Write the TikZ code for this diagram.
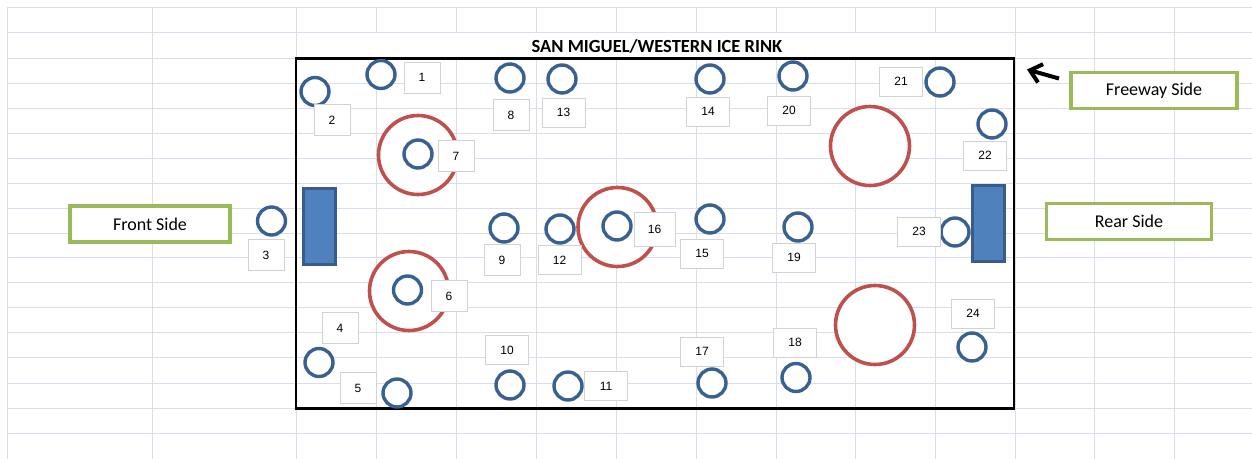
\documentclass[tikz,border=0pt]{standalone}
\usepackage{fontspec}
\setmainfont{Liberation Sans}
\newfontfamily\calibri{Carlito}
\usetikzlibrary{arrows.meta}
\definecolor{cellline}{RGB}{217,222,236}
\definecolor{postblue}{RGB}{56,96,146}
\definecolor{ringred}{RGB}{192,80,77}
\definecolor{sidegreen}{RGB}{155,187,89}
\definecolor{goalblue}{RGB}{79,129,189}
\definecolor{goaledge}{RGB}{56,93,138}
\definecolor{tagline}{RGB}{210,210,210}
\begin{document}
\begin{tikzpicture}[
        x=1pt, y=-1pt,
        cell/.style={draw=cellline, line width=1pt},
        rink/.style={draw=black, line width=2.4pt},
        ring/.style={circle, draw=ringred, line width=3.6pt, fill=white, minimum size=79pt, inner sep=0pt},
        post/.style={circle, draw=postblue, line width=3.4pt, fill=white, minimum size=28pt, inner sep=0pt},
        tag/.style={rectangle, draw=tagline, line width=1pt, fill=white, minimum width=36pt, minimum height=31pt, inner sep=0pt, font=\fontsize{12}{14}\selectfont},
        wide/.style={tag, minimum width=43pt, minimum height=29pt},
        goal/.style={rectangle, draw=goaledge, line width=3pt, fill=goalblue, minimum width=32pt, minimum height=76pt, inner sep=0pt},
        side/.style={rectangle, draw=sidegreen, line width=3.6pt, fill=white, minimum height=36pt, inner sep=0pt, font=\calibri\fontsize{18}{20}\selectfont}
        ]
      \useasboundingbox (1,0.5) rectangle (1253,458.5);
      % spreadsheet cells
      \draw[cell] (8,8) -- (1253,8) (8,33) -- (1253,33) (8,59) -- (1253,59) (8,84) -- (1253,84)
        (8,109) -- (1253,109) (8,134) -- (1253,134) (8,159) -- (1253,159) (8,184) -- (1253,184)
        (8,209) -- (1253,209) (8,234) -- (1253,234) (8,258) -- (1253,258) (8,283) -- (1253,283)
        (8,308) -- (1253,308) (8,333) -- (1253,333) (8,358) -- (1253,358) (8,384) -- (1253,384)
        (8,409) -- (1253,409) (8,434) -- (1253,434);
      \draw[cell] (8,8) -- (8,459) (153,8) -- (153,459) (297,8) -- (297,459) (1016,8) -- (1016,459)
        (377,8) -- (377,33) (457,8) -- (457,33) (537,8) -- (537,33) (617,8) -- (617,33)
        (697,8) -- (697,33) (777,8) -- (777,33) (856,8) -- (856,33) (936,8) -- (936,33)
        (377,59) -- (377,459) (457,59) -- (457,459) (537,59) -- (537,459) (617,59) -- (617,459)
        (697,59) -- (697,459) (777,59) -- (777,459) (856,59) -- (856,459) (936,59) -- (936,459)
        (1095,8) -- (1095,459) (1175,8) -- (1175,459);

      \node[font=\calibri\bfseries\fontsize{18.5}{20}\selectfont] (title) at (658,46.5) {SAN MIGUEL/WESTERN ICE RINK};
      \node[rink, minimum width=718pt, minimum height=350pt, inner sep=0pt] (frame) at (656,234) {};

      % rings
      \node[ring] (r7) at (419,155.5) {};
      \node[ring] (r6) at (410,291.5) {};
      \node[ring] (r16) at (618.5,227.5) {};
      \node[ring] (rtop) at (871,146.5) {};
      \node[ring] (rbot) at (876,325.5) {};

      % goals
      \node[goal] (gfront) at (320.5,227) {};
      \node[goal] (grear) at (989.5,224) {};

      % posts
      \node[post] (p1) at (382,75) {};
      \node[post] (p2) at (316,92) {};
      \node[post] (p3) at (272.5,221.5) {};
      \node[post] (p4) at (320,363) {};
      \node[post] (p5) at (398,393.5) {};
      \node[post] (p6) at (408.5,290.5) {};
      \node[post] (p7) at (419,154.5) {};
      \node[post] (p8) at (511,78.5) {};
      \node[post] (p9) at (505,228.5) {};
      \node[post] (p10) at (511,385.5) {};
      \node[post] (p11) at (569,386.5) {};
      \node[post] (p12) at (561,229.5) {};
      \node[post] (p13) at (563,79.5) {};
      \node[post] (p14) at (711,79.5) {};
      \node[post] (p15) at (711,219.5) {};
      \node[post] (p16) at (618,226.5) {};
      \node[post] (p17) at (713,383.5) {};
      \node[post] (p18) at (797,378) {};
      \node[post] (p19) at (799,227.5) {};
      \node[post] (p20) at (794,76.5) {};
      \node[post] (p21) at (941,82.5) {};
      \node[post] (p22) at (993,124.5) {};
      \node[post] (p23) at (956,232.5) {};
      \node[post] (p24) at (973,347.5) {};

      % number tags
      \node[tag] (t1) at (423,78) {1};
      \node[tag] (t2) at (333,120.5) {2};
      \node[tag] (t3) at (267,255.5) {3};
      \node[tag] (t4) at (341,328.5) {4};
      \node[tag] (t5) at (359,388.5) {5};
      \node[tag] (t6) at (450,296.5) {6};
      \node[tag] (t7) at (457,156.5) {7};
      \node[tag] (t8) at (512,115.5) {8};
      \node[tag] (t9) at (503,260.5) {9};
      \node[wide] (t10) at (508,350.5) {10};
      \node[wide] (t11) at (607,386.5) {11};
      \node[wide] (t12) at (560.5,260.5) {12};
      \node[wide] (t13) at (564.5,113) {13};
      \node[wide] (t14) at (709,112) {14};
      \node[wide] (t15) at (703,254) {15};
      \node[wide, minimum width=41pt, minimum height=34pt] (t16) at (655.5,229.5) {16};
      \node[wide] (t17) at (703,352) {17};
      \node[wide] (t18) at (796,343) {18};
      \node[wide] (t19) at (795,258) {19};
      \node[wide] (t20) at (790,111) {20};
      \node[wide] (t21) at (902,82) {21};
      \node[wide] (t22) at (986,156) {22};
      \node[wide] (t23) at (920,232) {23};
      \node[wide] (t24) at (974,314) {24};

      % side labels
      \node[side, minimum width=160pt] (front) at (151,224.5) {Front Side};
      \node[side, minimum width=165pt] (rear) at (1130,222) {Rear Side};
      \node[side, minimum width=166pt] (freeway) at (1155,91) {Freeway Side};

      \coordinate (tailpt) at (1060,79);
      \coordinate (headpt) at (1028,70);
      \draw[-{Straight Barb[length=11pt,width=19pt]}, line width=4pt, black] (tailpt) -- (headpt);
    \end{tikzpicture}
\end{document}
